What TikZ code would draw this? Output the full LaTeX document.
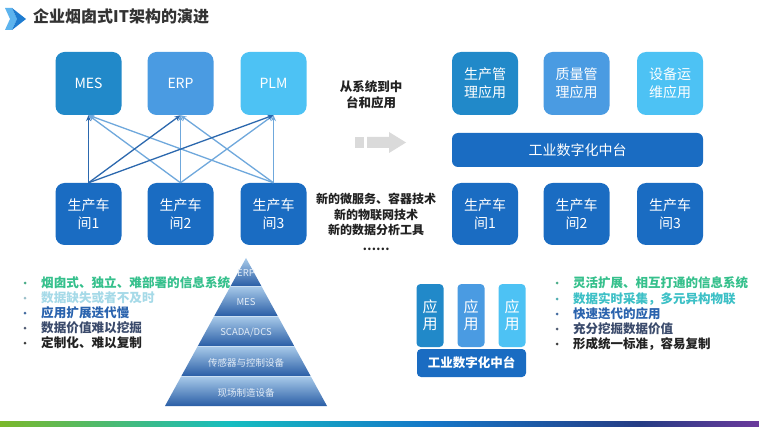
\documentclass[tikz,border=0pt]{standalone}
\usepackage{fontspec}
\setmainfont{Noto Sans CJK SC}
\usetikzlibrary{arrows.meta}
\definecolor{mesblue}{HTML}{2189C9}
\definecolor{erpblue}{HTML}{4A9BE2}
\definecolor{plmblue}{HTML}{4DC2F4}
\definecolor{shopblue}{HTML}{1A6CC2}
\definecolor{linedark}{HTML}{2C68AE}
\definecolor{linelight}{HTML}{6FA8DC}
\definecolor{titlegray}{HTML}{333333}
\definecolor{arrowgray}{HTML}{DADADA}
\definecolor{pyrlight}{HTML}{A9CBEA}
\definecolor{pyrdark}{HTML}{2A5EA6}
\definecolor{pyrtext}{HTML}{E2ECF7}
\definecolor{bgreen}{HTML}{35C08C}
\definecolor{bteal}{HTML}{3CC0C6}
\definecolor{bpale}{HTML}{A6DAE8}
\definecolor{bblue}{HTML}{2A63AE}
\definecolor{bslate}{HTML}{3B4B6C}
\definecolor{bblack}{HTML}{222222}
\definecolor{iconlight}{HTML}{5DB4EE}
\definecolor{icondark}{HTML}{1E7CD0}
\definecolor{gA}{HTML}{7BB82B}
\definecolor{gB}{HTML}{16BDC0}
\definecolor{gC}{HTML}{1577C8}
\definecolor{gD}{HTML}{253C84}
\definecolor{gE}{HTML}{6B3A9C}
\newcommand{\fs}[2]{\fontsize{#1}{#2}\selectfont}

\begin{document}
\begin{tikzpicture}[x=1pt, y=-1pt, every node/.style={inner sep=0pt},
  box/.style={rounded corners=9pt, text=white, align=center, minimum width=66pt, minimum height=63pt, font=\fs{14}{18}},
  bar/.style={rounded corners=6pt, fill=shopblue, text=white, minimum height=34pt, font=\fs{14}{18}},
  link/.style={-{Stealth[length=6pt,width=5pt]}, line width=1.3pt},
  dot/.style={circle, minimum size=3pt},
  bul/.style={anchor=west, font=\bfseries\fs{12.6}{15}},
  mid/.style={align=center, font=\bfseries\fs{12.5}{16}, text=bblack}]
\useasboundingbox (0,0) rectangle (759,427);
\fill[white] (0,0) rectangle (759,427);
% title
\fill[iconlight] (5,8) -- (12,8) -- (17,19) -- (12,30) -- (5,30) -- (10,19) -- cycle;
\fill[icondark] (12,8) -- (26,19) -- (12,30) -- (17,19) -- cycle;
\node[anchor=west, font=\bfseries\fs{16}{18}, text=titlegray] (title) at (33,16) {企业烟囱式IT架构的演进};
% left: chimney systems
\node[box, fill=mesblue] (mes) at (88.5,83.5) {MES};
\node[box, fill=erpblue] (erp) at (180.5,83.5) {ERP};
\node[box, fill=plmblue] (plm) at (273.5,83.5) {PLM};
\foreach \i/\x in {1/88.5,2/180.5,3/273.5}
  \node[box, fill=shopblue, minimum height=62pt] (w\i) at (\x,214) {生产车\\间\i};
\foreach \s in {w2,w3}
  \foreach \t in {mes,erp,plm}
    \draw[link, linelight] (\s.north) -- (\t.south);
\draw[link, linedark] (w1.north) -- (mes.south);
\draw[link, linedark] (w1.north) -- (erp.south);
\draw[link, linedark] (w1.north) -- (plm.south);
% middle
\node[mid] (cap) at (371,95) {从系统到中\\台和应用};
\fill[arrowgray] (355,137) rectangle (364,148);
\fill[arrowgray] (367,137) -- (389,137) -- (389,132) -- (406,142.5) -- (389,153) -- (389,148) -- (367,148) -- cycle;
\node[mid, font=\bfseries\fs{12}{15.5}] (tech) at (376,222) {新的微服务、容器技术\\新的物联网技术\\新的数据分析工具\\……};
% right: platform and apps
\node[box, fill=mesblue] (app1) at (485,83.5) {生产管\\理应用};
\node[box, fill=erpblue] (app2) at (576.5,83.5) {质量管\\理应用};
\node[box, fill=plmblue] (app3) at (670,83.5) {设备运\\维应用};
\node[bar, minimum width=251pt] (hub) at (577.5,150) {工业数字化中台};
\foreach \i/\x in {1/485,2/576.5,3/670}
  \node[box, fill=shopblue, minimum height=62pt] (r\i) at (\x,214) {生产车\\间\i};
% pyramid
\foreach \t/\b/\lab [count=\i] in {258/286/ERP,286/316/MES,316/346/{SCADA/DCS},346/376/传感器与控制设备,376/406/现场制造设备} {
  \pgfmathsetmacro\wt{(\t-258)*0.5473}
  \pgfmathsetmacro\wb{(\b-258)*0.5473}
  \shade[top color=pyrlight, bottom color=pyrdark] ({246-\wt},\t) -- ({246+\wt},\t) -- ({246+\wb},\b) -- ({246-\wb},\b) -- cycle;
  \draw[pyrlight!60!white, line width=0.6pt] ({246-\wt},\t) -- ({246+\wt},\t);
  \node[text=pyrtext, font=\fs{9.5}{11}] (py\i) at (246,{(\t+\b)/2+1.5}) {\lab};
}
% left bullets
\foreach \y/\col/\txt [count=\i] in {283/bgreen/{烟囱式、独立、难部署的信息系统},298/bpale/{数据缺失或者不及时},313/bblue/{应用扩展迭代慢},328/bslate/{数据价值难以挖掘},343/bblack/{定制化、难以复制}} {
  \node[dot, fill=\col!70!gray] (ld\i) at (25,\y) {};
  \node[bul, text=\col] (lt\i) at (41,\y) {\txt};
}
% small platform
\foreach \i/\x/\col in {1/430/mesblue,2/471/erpblue,3/512/plmblue}
  \node[box, fill=\col, rounded corners=4pt, minimum width=27pt, minimum height=63pt, font=\fs{15}{17}] (ap\i) at (\x,315.5) {应\\用};
\node[bar, rounded corners=4pt, minimum width=109pt, minimum height=28pt, font=\bfseries\fs{12.5}{15}] (hubs) at (471.5,363) {工业数字化中台};
% right bullets
\foreach \y/\col/\txt [count=\i] in {283/bgreen/{灵活扩展、相互打通的信息系统},299/bteal/{数据实时采集，多元异构物联},314/bblue/{快速迭代的应用},329/bslate/{充分挖掘数据价值},344/bblack/{形成统一标准，容易复制}} {
  \node[dot, fill=\col!70!gray] (rd\i) at (557,\y) {};
  \node[bul, font=\bfseries\fs{12.5}{15}, text=\col] (rt\i) at (573,\y) {\txt};
}
% bottom strip
\foreach \a/\b/\ca/\cb in {0/230/gA/gB,230/430/gB/gC,430/640/gC/gD,640/759/gD/gE}
  \shade[left color=\ca, right color=\cb] (\a,421) rectangle (\b,427);
\end{tikzpicture}
\end{document}
